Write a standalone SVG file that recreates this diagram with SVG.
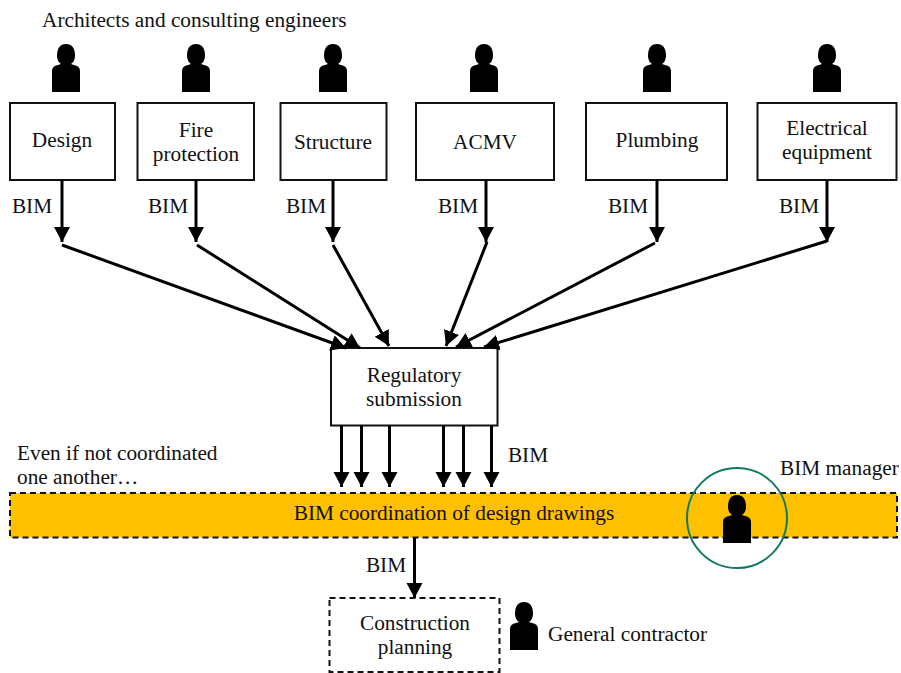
<svg xmlns="http://www.w3.org/2000/svg" width="901" height="673" viewBox="0 0 901 673">
<style>
text{font-family:"Liberation Serif","Times New Roman",serif;font-size:21.3px;fill:#111;text-anchor:middle}
.l{text-anchor:start}
.box{fill:#fff;stroke:#111;stroke-width:2}
.dash{stroke:#111;stroke-width:2;stroke-dasharray:6 4}
.c line{stroke:#000;stroke-width:3;marker-end:url(#a)}
</style>
<defs>
<marker id="a" markerUnits="userSpaceOnUse" markerWidth="17" markerHeight="17" refX="15" refY="8" orient="auto"><path d="M0 0L15 8L0 16Z" fill="#000"/></marker>
<path id="p" d="M-14 43V22Q-14 17-8 16L-5 15Q-9 12-9 7Q-9-5 0-5Q9-5 9 7Q9 12 5 15L8 16Q14 17 14 22V43Z" fill="#000"/>
</defs>
<rect width="901" height="673" fill="#fff"/>
<text class="l" x="42" y="27">Architects and consulting engineers</text>
<g id="n-design"><use href="#p" x="66" y="49"/><rect class="box" x="10" y="103" width="105" height="77"/><text x="62" y="147">Design</text></g>
<g id="n-fire"><use href="#p" x="196" y="49"/><rect class="box" x="137.500" y="103" width="116.500" height="77"/><text x="196" y="137">Fire</text><text x="196" y="161">protection</text></g>
<g id="n-structure"><use href="#p" x="333" y="49"/><rect class="box" x="280.500" y="103" width="106" height="77"/><text x="333" y="149">Structure</text></g>
<g id="n-acmv"><use href="#p" x="484" y="49"/><rect class="box" x="416" y="103" width="138" height="77"/><text x="485" y="149">ACMV</text></g>
<g id="n-plumbing"><use href="#p" x="657" y="49"/><rect class="box" x="586" y="103" width="141" height="77"/><text x="657" y="147">Plumbing</text></g>
<g id="n-electrical"><use href="#p" x="827" y="49"/><rect class="box" x="757.500" y="103" width="139" height="77"/><text x="827" y="135">Electrical</text><text x="827" y="159">equipment</text></g>
<g id="n-regulatory"><rect class="box" x="331" y="348" width="166.500" height="77.500"/><text x="414" y="382">Regulatory</text><text x="414" y="406">submission</text></g>
<g id="n-coordination"><rect class="dash" x="10" y="493" width="887" height="44.500" fill="#ffc000"/><text x="454" y="520">BIM coordination of design drawings</text></g>
<g id="n-manager"><use href="#p" x="737" y="500"/><circle cx="737" cy="518" r="50" fill="none" stroke="#127a60" stroke-width="2"/><text class="l" x="780" y="475">BIM manager</text></g>
<g id="n-construction"><rect class="dash" x="329.500" y="598" width="170" height="74" fill="#fff"/><text x="415" y="630">Construction</text><text x="415" y="654">planning</text></g>
<g id="n-contractor"><use href="#p" x="524" y="607"/><text class="l" x="548" y="641">General contractor</text></g>
<g class="c" id="connectors">
<line x1="62" y1="180" x2="62" y2="242"/><line x1="196" y1="180" x2="196" y2="242"/><line x1="333" y1="180" x2="333" y2="242"/><line x1="486" y1="180" x2="486" y2="242"/><line x1="657" y1="180" x2="657" y2="242"/><line x1="827" y1="180" x2="827" y2="242"/>
<line x1="62" y1="245" x2="346" y2="348"/><line x1="197" y1="245" x2="360" y2="348"/><line x1="333" y1="245" x2="389" y2="346"/><line x1="487" y1="242" x2="446" y2="346"/><line x1="655" y1="243" x2="456" y2="347"/><line x1="827" y1="241" x2="484" y2="347"/>
<line x1="341.500" y1="426" x2="341.500" y2="487"/><line x1="361.500" y1="426" x2="361.500" y2="487"/><line x1="389.500" y1="426" x2="389.500" y2="487"/><line x1="443.500" y1="426" x2="443.500" y2="487"/><line x1="463.500" y1="426" x2="463.500" y2="487"/><line x1="491.500" y1="426" x2="491.500" y2="487"/>
<line x1="414.500" y1="538" x2="414.500" y2="598"/>
</g>
<g id="labels">
<text x="32" y="213">BIM</text><text x="168" y="213">BIM</text><text x="306" y="213">BIM</text><text x="458" y="213">BIM</text><text x="628" y="213">BIM</text><text x="799" y="213">BIM</text>
<text x="528" y="462">BIM</text><text x="386" y="572">BIM</text>
<text class="l" x="17" y="460">Even if not coordinated</text><text class="l" x="17" y="484">one another…</text>
</g>
</svg>
